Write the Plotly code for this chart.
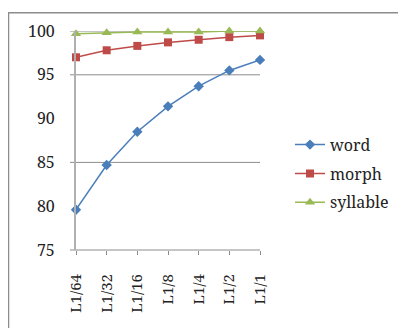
import plotly.graph_objects as go

categories = ["L1/64", "L1/32", "L1/16", "L1/8", "L1/4", "L1/2", "L1/1"]
word = [79.6, 84.7, 88.5, 91.4, 93.7, 95.5, 96.7]
morph = [97.0, 97.8, 98.3, 98.7, 99.0, 99.3, 99.5]
syllable = [99.7, 99.8, 99.9, 99.9, 99.9, 100.0, 100.0]
ytick_vals = [75, 80, 85, 90, 95, 100]
grid_vals = [85, 95, 100]

FONT = "Noto Serif"
OFF = 8  # page body offset
W, H = 406 - OFF, 328 - OFF
L, T = 76 - OFF, 28 - OFF
pw, ph = 184, 222
R, B = W - L - pw, H - T - ph

def px(x):  # screen x -> paper
    return (x - 76) / pw

def py(y):  # screen y -> paper
    return (250 - y) / ph

fig = go.Figure()
series = [
    ("word", word, "#4A7EBB", "diamond", 8),
    ("morph", morph, "#BE4B48", "square", 8),
    ("syllable", syllable, "#98B954", "triangle-up", 9),
]
for name, vals, col, sym, sz in series:
    fig.add_trace(go.Scatter(
        x=categories, y=vals, name=name, mode="lines+markers",
        legendgroup=name, cliponaxis=False,
        line=dict(color=col, width=1.5),
        marker=dict(symbol=sym, size=sz, color=col),
    ))

shapes = []
for g in grid_vals:
    shapes.append(dict(type="line", xref="paper", yref="y",
                       x0=px(70), x1=1, y0=g, y1=g,
                       line=dict(color="#8C8C8C", width=1), layer="below"))
shapes.append(dict(type="line", xref="paper", yref="paper",
                   x0=px(70), x1=1, y0=0, y1=0,
                   line=dict(color="#8C8C8C", width=1), layer="below"))
shapes.append(dict(type="rect", xref="paper", yref="paper",
                   x0=px(8.5), x1=px(420), y0=py(9.5), y1=py(340),
                   line=dict(color="#8C8C8C", width=1.5)))

fig.update_layout(
    width=W, height=H,
    margin=dict(l=L, r=R, t=T, b=B),
    paper_bgcolor="white", plot_bgcolor="white",
    font=dict(family=FONT, size=15, color="#222222"),
    showlegend=True,
    legend=dict(x=px(290), y=py(126), xanchor="left", yanchor="top",
                font=dict(family=FONT, size=16, color="#222222"),
                tracegroupgap=5, itemwidth=30, bgcolor="rgba(0,0,0,0)"),
    shapes=shapes,
    xaxis=dict(type="category", range=[0, 6], showgrid=False,
               showline=False, zeroline=False,
               ticks="outside", ticklen=4, tickcolor="#8C8C8C",
               tickangle=-90, tickfont=dict(family=FONT, size=15),
               ticklabelstandoff=13),
    yaxis=dict(range=[75, 100], tickvals=ytick_vals, showgrid=False,
               showline=True, linecolor="#B0B0B0", linewidth=2,
               zeroline=False, ticks="",
               tickfont=dict(family=FONT, size=16),
               ticklabelstandoff=16),
)
fig.write_html("out.html")
